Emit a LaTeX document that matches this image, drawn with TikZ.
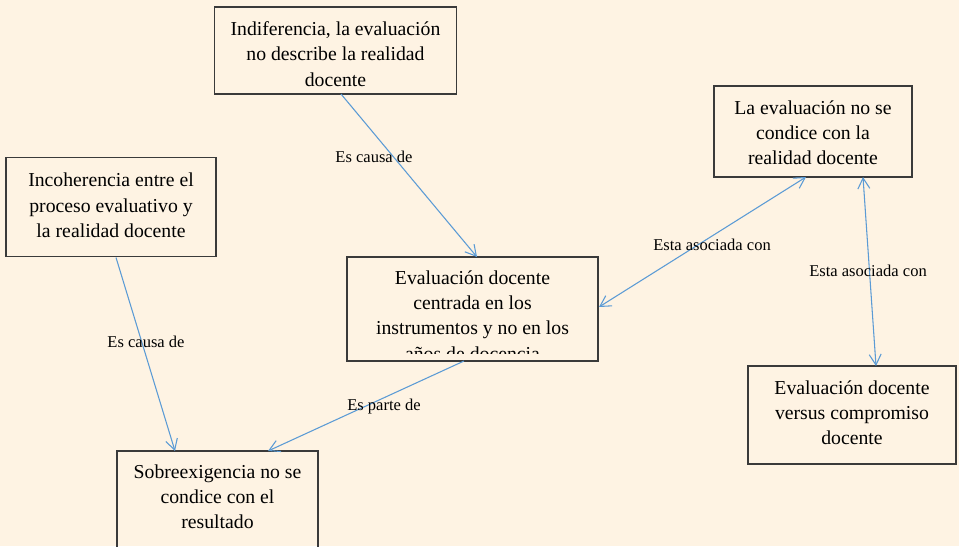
\documentclass[tikz,border=0pt]{standalone}
\usepackage{fontspec}
\setmainfont{Liberation Serif}
\usetikzlibrary{arrows.meta,calc}
\definecolor{bgc}{HTML}{FEF3E3}
\definecolor{arr}{HTML}{5B9BD5}
\definecolor{brd}{HTML}{3A3A3A}
\begin{document}
\begin{tikzpicture}[x=0.75pt,y=-0.75pt,
  box/.style={draw=brd,line width=1pt,inner sep=0pt,outer sep=0pt},
  btext/.style={anchor=north,inner sep=0pt,align=center,font=\fontsize{14.8}{18.9}\selectfont,
    execute at begin node={\rule{0pt}{12pt}}},
  lbl/.style={inner sep=0pt,font=\fontsize{12.4}{15}\selectfont},
  conn/.style={draw=arr,line width=0.8pt,-{Straight Barb[length=8pt,width=9pt,line width=0.8pt]}},
  conn2/.style={draw=arr,line width=0.8pt,{Straight Barb[length=8pt,width=9pt,line width=0.8pt]}-{Straight Barb[length=8pt,width=9pt,line width=0.8pt]}}]
\fill[bgc] (0,0) rectangle (959,546);
\useasboundingbox (0,0) rectangle (959,546);
% boxes
\node[box,minimum width=242*0.75pt,minimum height=87*0.75pt] (A) at (335.5,50.5) {};
\node[box,minimum width=210*0.75pt,minimum height=99*0.75pt] (B) at (111,207) {};
\node[box,minimum width=251*0.75pt,minimum height=104*0.75pt] (C) at (472.5,309) {};
\node[box,minimum width=198*0.75pt,minimum height=91*0.75pt] (D) at (813,131.5) {};
\node[box,minimum width=208*0.75pt,minimum height=98*0.75pt] (E) at (852,415) {};
\node[box,minimum width=201*0.75pt,minimum height=120*0.75pt] (F) at (217.5,511) {};
% texts
\node[btext] (At) at ($(A.north)+(0,14.5)$) {Indiferencia, la evaluación\\no describe la realidad\\docente};
\node[btext] (Bt) at ($(B.north)+(0,15.5)$) {Incoherencia entre el\\proceso evaluativo y\\la realidad docente};
\begin{scope}
\clip (347,257) rectangle (598,353);
\node[btext] (Ct) at ($(C.north)+(0,13.5)$) {Evaluación docente\\centrada en los\\instrumentos y no en los\\años de docencia};
\end{scope}
\node[btext] (Dt) at ($(D.north)+(0,14.5)$) {La evaluación no se\\condice con la\\realidad docente};
\node[btext] (Et) at ($(E.north)+(0,14.5)$) {Evaluación docente\\versus compromiso\\docente};
\node[btext] (Ft) at ($(F.north)+(0,13.5)$) {Sobreexigencia no se\\condice con el\\resultado};
% connectors
\draw[conn] ($(A.south)+(5.5,0)$) -- ($(C.north)+(4.5,0)$);
\draw[conn] ($(B.south)+(5,1)$) -- ($(F.north)+(-42.5,0)$);
\draw[conn] ($(C.south)+(-8.5,0)$) -- ($(F.north)+(50.5,0)$);
\draw[conn2] ($(C.east)+(1,-2)$) -- ($(D.south)+(-7,0)$);
\draw[conn2] ($(D.south)+(50,0)$) -- ($(E.north)+(24,0)$);
% labels
\node[lbl] (L1) at (374,157) {Es causa de};
\node[lbl] (L2) at (146,342) {Es causa de};
\node[lbl] (L3) at (384,407) {Es parte de};
\node[lbl] (L4) at (712,245) {Esta asociada con};
\node[lbl] (L5) at (868,271) {Esta asociada con};
\end{tikzpicture}
\end{document}
